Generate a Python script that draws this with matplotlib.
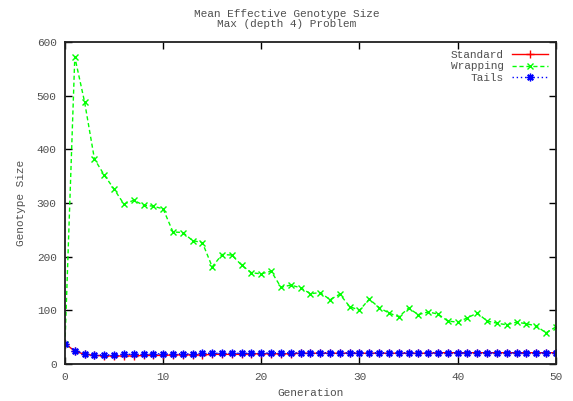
import matplotlib
matplotlib.use("Agg")
import matplotlib.pyplot as plt

generations = list(range(0, 51))

standard = [38, 24, 18, 16, 15, 15, 15, 15, 16, 16, 16, 17, 17, 17, 17, 18, 18,
            18, 18, 19, 19, 19, 19, 19, 20, 20, 20, 20, 20, 20, 20, 20, 20, 20,
            20, 20, 20, 20, 21, 21, 21, 21, 21, 21, 21, 21, 21, 21, 21, 21, 21]

wrapping = [38, 572, 488, 382, 352, 326, 298, 305, 296, 294, 289, 246, 245, 230,
            226, 181, 204, 203, 184, 170, 168, 173, 143, 147, 142, 131, 133, 120,
            130, 107, 100, 121, 105, 95, 88, 104, 92, 97, 93, 80, 78, 86, 95, 80,
            76, 73, 78, 75, 71, 58, 69]

tails = [38, 25, 19, 17, 17, 17, 18, 18, 18, 19, 19, 19, 19, 19, 20, 20, 20, 20,
         20, 20, 20, 21, 21, 21, 21, 21, 21, 21, 21, 21, 21, 21, 21, 21, 21, 21,
         21, 21, 21, 21, 21, 21, 21, 21, 21, 21, 21, 21, 21, 21, 21]

series_names = ["Standard", "Wrapping", "Tails"]
x_ticks = [0, 10, 20, 30, 40, 50]
y_ticks = [0, 100, 200, 300, 400, 500, 600]

plt.rcParams['font.family'] = ['Liberation Mono', 'DejaVu Sans Mono']
txt = '#505050'

fig = plt.figure(figsize=(5.73, 4.01), dpi=100)
ax = fig.add_axes([0.1134, 0.0923, 0.8566, 0.803])

l1, = ax.plot(generations, standard, color='#ff0000', lw=1, ls='-',
              marker='+', ms=6, mew=1, label=series_names[0])
l2, = ax.plot(generations, wrapping, color='#00ff00', lw=1, ls=(0, (3, 2)),
              marker='x', ms=5, mew=1, label=series_names[1])
l3, = ax.plot(generations, tails, color='#0000ff', lw=1, ls=(0, (1, 2)),
              marker=(8, 2, 0), ms=5.5, mew=1, label=series_names[2])

ax.set_xlim(0, 50)
ax.set_ylim(0, 600)
ax.set_xticks(x_ticks)
ax.set_yticks(y_ticks)
ax.tick_params(direction='in', length=5, width=1, top=True, right=True,
               labelsize=8, labelcolor=txt, pad=6)
for s in ax.spines.values():
    s.set_linewidth(1.3)
    s.set_color('#202020')

ax.set_xlabel("Generation", fontsize=8, color=txt, labelpad=4)
ax.set_ylabel("Genotype Size", fontsize=8, color=txt, labelpad=8)
fig.text(0.5, 0.965, "Mean Effective Genotype Size", ha='center', va='center',
         fontsize=8, color=txt)
fig.text(0.5, 0.94, "Max (depth 4) Problem", ha='center', va='center',
         fontsize=8, color=txt)

leg = ax.legend(handles=[l1, l2, l3], loc='upper right', frameon=False,
                fontsize=8, markerfirst=False, handlelength=3.2,
                labelspacing=0.15, borderaxespad=0.3, handletextpad=0.8,
                labelcolor=txt, numpoints=1)
for t in leg.get_texts():
    t.set_ha('right')

fig.savefig("out.png", dpi=100)
